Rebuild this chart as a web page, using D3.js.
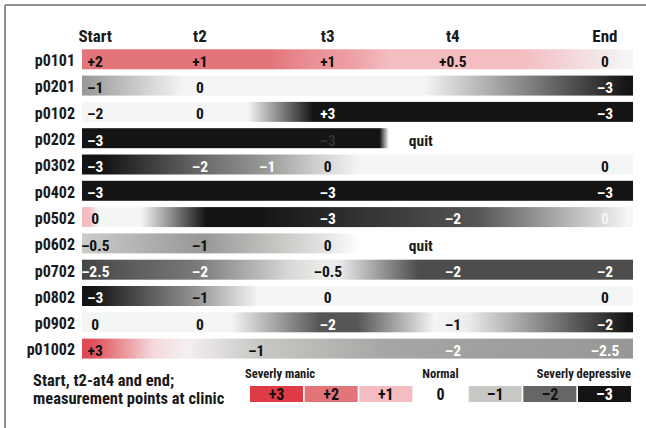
<!DOCTYPE html>
<html>
<head>
<meta charset="utf-8">
<script src="https://cdn.jsdelivr.net/npm/d3@7"></script>
<style>
html, body { margin: 0; padding: 0; background: #fff; }
svg { display: block; }
text { font-family: "Liberation Sans Narrow", "Roboto Condensed", "DejaVu Sans Condensed", "Liberation Sans", sans-serif; font-weight: bold; }
</style>
</head>
<body>
<svg id="chart" width="646" height="428"></svg>
<script>
// ---------- DATA ----------
const columns = ["Start", "t2", "t3", "t4", "End"];
// time of each measurement point, in % of the stay
const columnTimes = [2.4, 21.4, 44.6, 67.3, 94.9];
const [S, T2, T3, T4, E] = columnTimes;

const patients = ["p0101", "p0201", "p0102", "p0202", "p0302", "p0402",
                  "p0502", "p0602", "p0702", "p0802", "p0902", "p01002"];

// recorded scores shown on each row: [time, text, note]
const rowLabels = [
  [[S, "+2"], [T2, "+1"], [T3, "+1"], [T4, "+0.5"], [E, "0"]],
  [[S, "–1"], [T2, "0"], [E, "–3"]],
  [[S, "–2"], [T2, "0"], [T3, "+3"], [E, "–3"]],
  [[S, "–3"], [T3, "–3", "muted"], [61.5, "quit"]],
  [[S, "–3"], [T2, "–2"], [33.6, "–1", "inverse"], [T3, "0"], [E, "0"]],
  [[S, "–3"], [T3, "–3"], [E, "–3"]],
  [[S, "0"], [T3, "–3"], [T4, "–2"], [E, "0", "muted"]],
  [[S, "–0.5"], [T2, "–1"], [T3, "0"], [61.5, "quit"]],
  [[S, "–2.5"], [T2, "–2"], [T3, "–0.5"], [T4, "–2"], [E, "–2"]],
  [[S, "–3"], [T2, "–1"], [T3, "0"], [E, "0"]],
  [[S, "0"], [T2, "0"], [T3, "–2"], [T4, "–1"], [E, "–2"]],
  [[S, "+3"], [31.6, "–1"], [T4, "–2"], [E, "–2.5"]]
];

// mood course along each row: [time, score]; null = no longer at clinic
const rowCourse = [
  [[0, 2], [34, 2], [42, 1.6], [49, 1.4], [56, 1], [80, 1], [99, 0], [100, 0]],
  [[0, -1.5], [18.5, 0], [62, 0], [99, -3], [100, -3]],
  [[0, 0], [30, 0], [42, -3], [100, -3]],
  [[0, -3], [54, -3], [55.7, null], [100, null]],
  [[0, -3], [4, -3], [21, -2], [33, -1.5], [42, -0.9], [50.5, 0], [100, 0]],
  [[0, -3], [100, -3]],
  [[0, 1], [1.2, 1], [3, 0], [10.7, 0], [22.5, -3], [32, -3], [45, -2.75], [67, -2.3], [72, -2.2], [99, 0], [100, 0]],
  [[0, -0.9], [22, -1.5], [36, -1], [44, -0.4], [50.5, null], [100, null]],
  [[0, -2.4], [21, -1.8], [38, -0.6], [44, -0.2], [47, -0.3], [61, -2.3], [100, -2.3]],
  [[0, -3], [2, -3], [21, -1.5], [32, 0], [100, 0]],
  [[0, 0], [27, 0], [43, -2.2], [50, -2.2], [64, 0], [70, -0.2], [99, -3], [100, -3]],
  [[0, 2.8], [2, 2.6], [13, 0.5], [19, 0.1], [32, -1], [55, -1.35], [100, -1.5]]
];

const scoreSteps = [3, 2, 1, 0, -1, -2, -3];
const scoreTexts = ["+3", "+2", "+1", "0", "–1", "–2", "–3"];
const legendTitle = ["Start, t2-at4 and end;", "measurement points at clinic"];
const legendGroups = ["Severly manic", "Normal", "Severly depressive"];

// ---------- SCALES ----------
const svg = d3.select("#chart");
const W = 646, H = 428;

const x = d3.scaleLinear().domain([0, 100]).range([82, 633]);
const y = d3.scaleBand().domain(patients).range([49.3, 358.6]).paddingInner(0.24).paddingOuter(0);
const scoreColor = d3.scaleLinear()
  .domain([-3, -2, -1, 0, 1, 2, 3])
  .range(["#141414", "#666666", "#c8c8c5", "#f4f5f5", "#f3bdc2", "#e3747a", "#df3a45"])
  .interpolate(d3.interpolateRgb);
const colorOf = v => v == null ? "#ffffff" : scoreColor(v);
const lx = d3.scaleBand().domain(scoreTexts).range([250, 631]).paddingInner(0.03).paddingOuter(0);

function bgAt(stops, t) {
  for (let i = 0; i < stops.length - 1; i++) {
    const [t0, v0] = stops[i], [t1, v1] = stops[i + 1];
    if (t >= t0 && t <= t1) {
      const f = t1 === t0 ? 0 : (t - t0) / (t1 - t0);
      return d3.rgb(d3.interpolateRgb(colorOf(v0), colorOf(v1))(f));
    }
  }
  return d3.rgb(colorOf(stops[stops.length - 1][1]));
}
const bright = c => (0.299 * c.r + 0.587 * c.g + 0.114 * c.b) / 255;

// ---------- FRAME ----------
svg.append("line").attr("x1", 5).attr("y1", 5).attr("x2", W).attr("y2", 5)
  .attr("stroke", "#909090").attr("stroke-width", 2);
svg.append("line").attr("x1", 5).attr("y1", 5).attr("x2", 5).attr("y2", H)
  .attr("stroke", "#909090").attr("stroke-width", 2);

// ---------- GRADIENTS ----------
const defs = svg.append("defs");
patients.forEach((p, i) => {
  const g = defs.append("linearGradient").attr("id", "g-" + p)
    .attr("x1", "0%").attr("x2", "100%").attr("y1", "0%").attr("y2", "0%");
  g.selectAll("stop").data(rowCourse[i]).join("stop")
    .attr("offset", d => (x(d[0]) - x(0)) / (x(100) - x(0)))
    .attr("stop-color", d => colorOf(d[1]));
});

// ---------- HEADERS ----------
svg.append("g").selectAll("text").data(columns).join("text")
  .attr("x", (d, i) => x(columnTimes[i]))
  .attr("y", 41.5)
  .attr("text-anchor", "middle")
  .attr("font-size", 17)
  .attr("fill", "#1a1a1a")
  .text(d => d);

// ---------- ROWS ----------
const rows = svg.append("g").selectAll("g").data(patients).join("g")
  .attr("transform", d => `translate(0,${y(d)})`);

rows.append("text")
  .attr("x", 75).attr("y", 16.8)
  .attr("text-anchor", "end")
  .attr("font-size", 16)
  .attr("fill", "#1a1a1a")
  .text(d => d);

rows.append("rect")
  .attr("x", x(0)).attr("y", 0)
  .attr("width", x(100) - x(0)).attr("height", y.bandwidth())
  .attr("fill", d => `url(#g-${d})`);

rows.each(function (p, i) {
  const stops = rowCourse[i];
  d3.select(this).selectAll("text.v").data(rowLabels[i]).join("text")
    .attr("class", "v")
    .attr("x", d => x(d[0]))
    .attr("y", 17.4)
    .attr("text-anchor", "middle")
    .attr("font-size", 15.5)
    .attr("fill", d => {
      if (d[1] === "quit") return "#1a1a1a";
      const bg = bgAt(stops, d[0]);
      const b = bright(bg);
      const num = +d[1].replace("–", "-");
      let dark = b < 0.3 || (num <= -2 && b < 0.7);
      if (d[2] === "inverse") dark = !dark;
      if (d[2] === "muted") return d3.interpolateRgb(bg, "#fff")(b > 0.5 ? 0.7 : 0.12);
      return dark ? "#ffffff" : "#111111";
    })
    .text(d => d[1]);
});

// ---------- LEGEND ----------
const leg = svg.append("g");
leg.selectAll("text.title").data(legendTitle).join("text")
  .attr("class", "title")
  .attr("x", 33).attr("y", (d, i) => 385.5 + i * 18)
  .attr("font-size", 16.5)
  .attr("fill", "#1a1a1a")
  .text(d => d);

const boxTop = 386, boxH = 16;
const slots = leg.selectAll("g.slot").data(scoreSteps).join("g").attr("class", "slot")
  .attr("transform", (d, i) => `translate(${lx(scoreTexts[i])},${boxTop})`);
slots.filter(d => d !== 0).append("rect")
  .attr("width", lx.bandwidth()).attr("height", boxH)
  .attr("fill", d => scoreColor(d));
slots.append("text")
  .attr("x", lx.bandwidth() / 2).attr("y", 14.3)
  .attr("text-anchor", "middle")
  .attr("font-size", 16)
  .attr("fill", d => d <= -3 ? "#ffffff" : "#111111")
  .text((d, i) => scoreTexts[i]);

const groupPos = [
  [lx(scoreTexts[0]) - 5, "start"],
  [lx(scoreTexts[3]) + lx.bandwidth() / 2, "middle"],
  [lx(scoreTexts[6]) + lx.bandwidth(), "end"]
];
leg.selectAll("text.grp").data(legendGroups).join("text")
  .attr("class", "grp")
  .attr("x", (d, i) => groupPos[i][0])
  .attr("y", 377.5)
  .attr("text-anchor", (d, i) => groupPos[i][1])
  .attr("font-size", 12.5)
  .attr("fill", "#1a1a1a")
  .text(d => d);
</script>
</body>
</html>
